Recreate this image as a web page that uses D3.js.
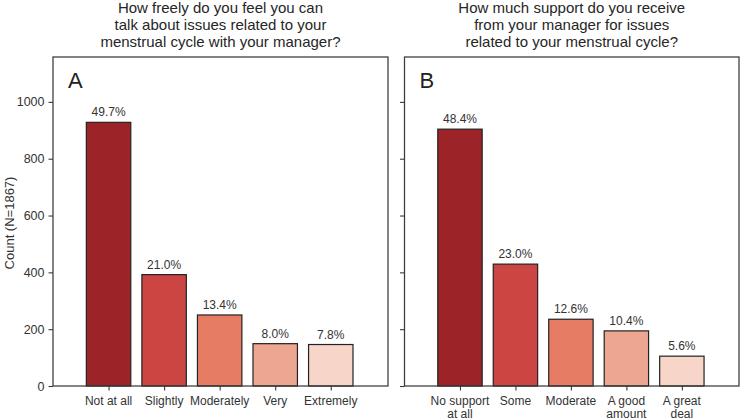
<!DOCTYPE html>
<html><head><meta charset="utf-8">
<script src="https://cdn.jsdelivr.net/npm/d3@7"></script>
<style>body{margin:0;background:#fff}svg{font-family:"Liberation Sans",Arial,sans-serif}</style>
</head><body><svg id="c" width="740" height="418"></svg>
<script>
const catsA = ["Not at all","Slightly","Moderately","Very","Extremely"];
const countsA = [928, 392, 250, 149, 146];
const pctA = ["49.7%","21.0%","13.4%","8.0%","7.8%"];
const catsB = [["No support","at all"],["Some"],["Moderate"],["A good","amount"],["A great","deal"]];
const countsB = [904, 429, 235, 194, 105];
const pctB = ["48.4%","23.0%","12.6%","10.4%","5.6%"];
const titleA = ["How freely do you feel you can","talk about issues related to your","menstrual cycle with your manager?"];
const titleB = ["How much support do you receive","from your manager for issues","related to your menstrual cycle?"];
const yTicks = [0,200,400,600,800,1000];
const colors = ["#9c2429","#cb4542","#e77c65","#eda68f","#f7d5c8"];

const svg = d3.select("#c");
const plotTop = 57, plotBottom = 386;
const y = d3.scaleLinear().domain([0, 1158]).range([plotBottom, plotTop]);

function panel(x0, x1, cats, counts, pcts, title, letter, showLabels) {
  const x = d3.scaleLinear().domain([-1, 5.03]).range([x0, x1]);
  const g = svg.append("g");
  const bw = x(0.8) - x(0);
  g.selectAll("rect.bar").data(counts).enter().append("rect")
    .attr("x", (d,i)=>x(i)-bw/2).attr("width", bw)
    .attr("y", d=>y(d)).attr("height", d=>y(0)-y(d))
    .attr("fill", (d,i)=>colors[i]).attr("stroke", "#222").attr("stroke-width", 1.2);
  g.selectAll("text.pct").data(counts).enter().append("text")
    .attr("x", (d,i)=>x(i)).attr("y", d=>y(d)-6)
    .attr("text-anchor","middle").attr("font-size", 12).attr("fill","#333")
    .text((d,i)=>pcts[i]);
  g.append("rect").attr("x", x0).attr("y", plotTop).attr("width", x1-x0).attr("height", plotBottom-plotTop)
    .attr("fill","none").attr("stroke","#3a3a3a").attr("stroke-width",1.25);
  const ya = d3.axisLeft(y).tickValues(yTicks).tickSize(4.5).tickPadding(4)
    .tickFormat(showLabels ? d3.format("d") : "");
  const yg = g.append("g").attr("transform",`translate(${x0},0)`).call(ya);
  yg.select(".domain").remove();
  yg.selectAll("line").attr("stroke","#3a3a3a").attr("stroke-width",1.1);
  yg.selectAll("text").attr("font-size",12.5).attr("fill","#333").attr("font-family","Liberation Sans, Arial, sans-serif");
  const xa = d3.axisBottom(x).tickValues(d3.range(cats.length)).tickSize(4.5).tickFormat("");
  const xg = g.append("g").attr("transform",`translate(0,${plotBottom})`).call(xa);
  xg.select(".domain").remove();
  xg.selectAll("line").attr("stroke","#3a3a3a").attr("stroke-width",1.1);
  cats.forEach((c,i)=>{
    const lines = Array.isArray(c) ? c : [c];
    const t = g.append("text").attr("x", x(i)).attr("y", 404.5).attr("text-anchor","middle")
      .attr("font-size",12).attr("fill","#333");
    lines.forEach((l,j)=>t.append("tspan").attr("x", x(i)).attr("dy", j? 13 : 0).text(l));
  });
  const cx = (x0+x1)/2;
  const tt = g.append("text").attr("x", cx).attr("y", 13).attr("text-anchor","middle")
    .attr("font-size",15).attr("fill","#262626");
  title.forEach((l,j)=>tt.append("tspan").attr("x", cx).attr("dy", j?17:0).text(l));
  g.append("text").attr("x", x0+15).attr("y", 88).attr("font-size", 22).attr("fill","#222").text(letter);
}

panel(53, 388, catsA, countsA, pctA, titleA, "A", true);
panel(404.5, 739, catsB, countsB, pctB, titleB, "B", false);

svg.append("text").attr("transform","translate(14,223) rotate(-90)").attr("text-anchor","middle")
  .attr("font-size",13).attr("fill","#333").text("Count (N=1867)");
</script></body></html>
